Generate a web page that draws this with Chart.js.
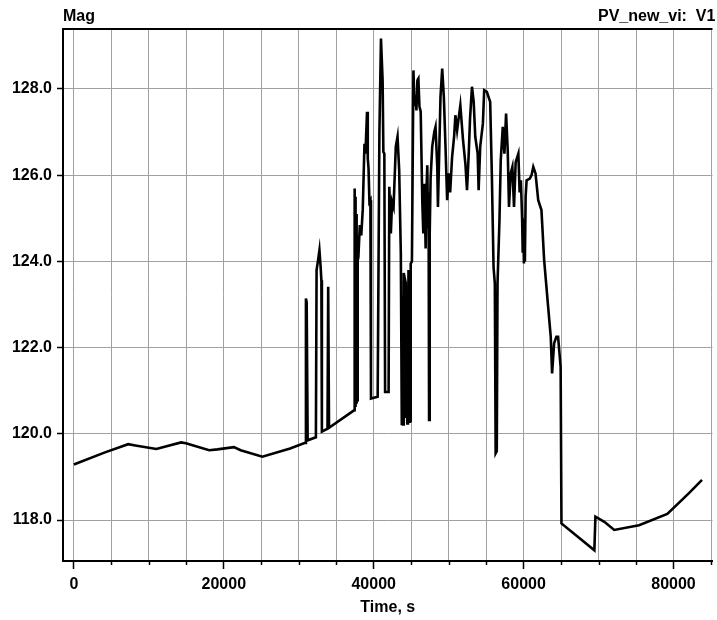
<!DOCTYPE html>
<html>
<head>
<meta charset="utf-8">
<title>PV_new_vi: V1</title>
<script src="https://cdn.jsdelivr.net/npm/chart.js@4.4.1/dist/chart.umd.min.js"></script>
<style>
  html, body { margin: 0; padding: 0; background: #fff; }
</style>
</head>
<body>
<canvas id="chart-mag" width="717" height="620"></canvas>
<script>
// Voltage magnitude at PV_new_vi over one day (time in seconds)

// quiet night / early morning
const quietTime = [0, 4150, 7250, 8200, 11000, 14300, 14950, 18050, 19150, 21350, 22250, 25150, 28850, 30850];
const quietMag = [119.29, 119.57, 119.76, 119.73, 119.65, 119.80, 119.78, 119.62, 119.64, 119.69, 119.62, 119.47, 119.66, 119.79];

// daytime, PV output swinging with clouds
const sunTime = [
  30960, 31060, 31190, 32290, 32380, 32580, 32760, 32910, 33020, 33090, 33840, 33930, 34040,
  37420, 37440, 37480, 37510, 37550, 37580, 37620, 37650, 37690, 37720, 37760, 37790,
  37830, 37860, 37900, 38010, 38150, 38340, 38540, 38770, 38900, 39110, 39210, 39310,
  39430, 39560, 39640, 40530, 40760, 40970, 41190, 41290, 41420, 41520, 41990, 42080,
  42290, 42450, 42650, 42950, 43180, 43400, 43620, 43750, 43850, 43930, 44010, 44150,
  44280, 44350, 44410, 44480, 44570, 44640, 44730, 44800, 44860, 44940, 45100, 45300,
  45450, 45600, 45700, 45830, 45960, 46100, 46270, 46490, 46620, 46760, 46850, 46930,
  47020, 47150, 47250, 47320, 47390, 47470, 47590, 47810, 48080, 48250, 48480, 48570,
  48740, 48910, 49140, 49360, 49580, 49800, 50030, 50200, 50460, 50730, 50900, 51130,
  51320, 51560, 51920, 52230, 52450, 52680, 52850, 53110, 53340, 53550, 53870, 54000,
  54210, 54570, 54740, 55100, 55540, 55760, 55990, 56160, 56270, 56420, 56520, 56780,
  56950, 57220, 57440, 57660, 57880, 58050, 58280, 58500, 58720, 58940, 59300, 59470,
  59640, 59800, 59880, 59960, 60040, 60100, 60170, 60270, 60400, 60830, 61060, 61290,
  61590, 61950, 62380, 62740, 63270, 63620, 63800, 64070, 64370, 64600, 64940
];
const sunMag = [
  123.14, 123.05, 119.85, 119.92, 123.80, 124.03, 124.26, 123.90, 123.56, 120.05, 120.12, 123.41, 120.14,
  120.55, 125.69, 120.60, 125.50, 120.62, 125.30, 120.65, 125.10, 120.70, 124.90, 120.72, 124.60,
  120.75, 124.50, 124.45, 124.30, 124.84, 124.60, 125.20, 126.73, 126.50, 127.47, 126.39, 126.16,
  125.38, 125.42, 120.82, 120.86, 126.97, 129.17, 128.20, 126.54, 126.50, 120.97, 120.97, 125.73,
  124.65, 125.38, 125.26, 126.66, 126.89, 126.12, 124.19, 120.20, 123.20, 120.22, 123.73, 123.60,
  123.50, 120.40, 123.40, 120.24, 120.26, 123.80, 120.28, 123.50, 120.30, 123.95, 124.00, 128.43,
  127.60, 127.85, 127.50, 128.20, 128.24, 127.60, 127.47, 125.35, 124.65, 125.80, 124.99, 124.30,
  125.50, 126.23, 124.80, 125.60, 120.32, 124.60, 125.92, 126.66, 127.00, 127.12, 126.20, 125.26,
  126.50, 127.81, 128.47, 127.81, 126.66, 125.42, 126.04, 125.60, 126.42, 126.90, 127.39, 127.04,
  127.30, 127.62, 126.81, 126.27, 125.65, 126.50, 127.30, 128.05, 127.70, 126.89, 126.50, 125.65,
  126.66, 127.20, 127.97, 127.93, 127.70, 126.04, 123.87, 123.49, 119.55, 119.60, 123.49, 124.96,
  126.35, 127.12, 126.50, 127.43, 126.58, 125.26, 126.04, 126.19, 125.26, 126.30, 126.50, 125.60,
  125.88, 125.00, 124.20, 124.96, 123.95, 124.90, 124.00, 125.50, 125.88, 125.92, 126.00, 126.19,
  126.04, 125.42, 125.19, 124.03, 122.95, 122.25, 121.40, 122.10, 122.25, 122.25, 121.55
];

// evening, PV off
const eveningTime = [65050, 69440, 69580, 70770, 72090, 75400, 79170, 82030, 83800];
const eveningMag = [117.92, 117.30, 118.08, 117.96, 117.77, 117.88, 118.14, 118.62, 118.93];

// axis ticks
const xTickValues = [0, 5000, 10000, 15000, 20000, 25000, 30000, 35000, 40000,
  45000, 50000, 55000, 60000, 65000, 70000, 75000, 80000, 85000];
const xLabelValues = [0, 20000, 40000, 60000, 80000];
const yTickValues = [118, 120, 122, 124, 126, 128];

const X_MIN = -1450;
const X_MAX = 85200;
const Y_MIN = 117.05;
const Y_MAX = 129.39;

const yCaption = 'Mag';
const seriesCaption = 'PV_new_vi:  V1';
const xTitle = 'Time, s';

const INK = '#000';
const GRID = '#a0a0a0';
const FONT_FAMILY = '"Liberation Sans", Arial, sans-serif';

const points = [];
[[quietTime, quietMag], [sunTime, sunMag], [eveningTime, eveningMag]].forEach(([t, v]) => {
  t.forEach((x, i) => points.push({ x, y: v[i] }));
});

const isLabelled = (v) => xLabelValues.includes(v);

// top frame edge, short marks between labelled x ticks, captions
const frameDecor = {
  id: 'frameDecor',
  afterDraw(chart) {
    const { ctx, chartArea } = chart;
    const xs = chart.scales.x;
    ctx.save();
    ctx.strokeStyle = INK;
    ctx.lineWidth = 2;
    ctx.beginPath();
    ctx.moveTo(chartArea.left, chartArea.top);
    ctx.lineTo(chartArea.right, chartArea.top);
    ctx.stroke();

    ctx.lineWidth = 1.5;
    xs.ticks.forEach((t) => {
      if (isLabelled(t.value)) return;
      const px = Math.round(xs.getPixelForValue(t.value)) + 0.5;
      ctx.beginPath();
      ctx.moveTo(px, chartArea.bottom);
      ctx.lineTo(px, chartArea.bottom + 4);
      ctx.stroke();
    });

    ctx.fillStyle = INK;
    ctx.font = `bold 16px ${FONT_FAMILY}`;
    ctx.textAlign = 'left';
    ctx.textBaseline = 'alphabetic';
    ctx.fillText(yCaption, chartArea.left, chartArea.top - 8);
    ctx.fillText(seriesCaption, 598, chartArea.top - 8);
    ctx.restore();
  },
};

new Chart(document.getElementById('chart-mag'), {
  type: 'line',
  data: {
    datasets: [{
      data: points,
      borderColor: INK,
      borderWidth: 2.6,
      pointRadius: 0,
      tension: 0,
      fill: false,
    }],
  },
  options: {
    responsive: false,
    animation: false,
    parsing: false,
    layout: { padding: { top: 29, left: 0, right: 0, bottom: 0 } },
    plugins: { legend: { display: false }, tooltip: { enabled: false } },
    scales: {
      x: {
        type: 'linear',
        min: X_MIN,
        max: X_MAX,
        afterBuildTicks: (s) => { s.ticks = xTickValues.map((value) => ({ value })); },
        afterFit: (s) => { s.height = 59; },
        border: { color: INK, width: 2 },
        grid: {
          color: GRID,
          lineWidth: 1,
          tickLength: 8,
          tickWidth: 1.5,
          tickColor: (c) => (c.tick && isLabelled(c.tick.value) ? INK : 'rgba(0,0,0,0)'),
        },
        ticks: {
          autoSkip: false,
          maxRotation: 0,
          padding: 6,
          color: INK,
          font: { family: FONT_FAMILY, size: 16, weight: 'bold' },
          callback: (v) => (isLabelled(v) ? String(v) : ''),
        },
        title: {
          display: true,
          text: xTitle,
          color: INK,
          font: { family: FONT_FAMILY, size: 16, weight: 'bold' },
          padding: { top: 0, bottom: 3 },
        },
      },
      y: {
        type: 'linear',
        min: Y_MIN,
        max: Y_MAX,
        afterBuildTicks: (s) => { s.ticks = yTickValues.map((value) => ({ value })); },
        afterFit: (s) => { s.width = 63; },
        border: { color: INK, width: 2 },
        grid: {
          color: GRID,
          lineWidth: 1,
          tickLength: 6,
          tickWidth: 1.5,
          tickColor: INK,
        },
        ticks: {
          padding: 5,
          color: INK,
          font: { family: FONT_FAMILY, size: 16, weight: 'bold' },
          callback: (v) => v.toFixed(1),
        },
      },
    },
  },
  plugins: [frameDecor],
});
</script>
</body>
</html>
